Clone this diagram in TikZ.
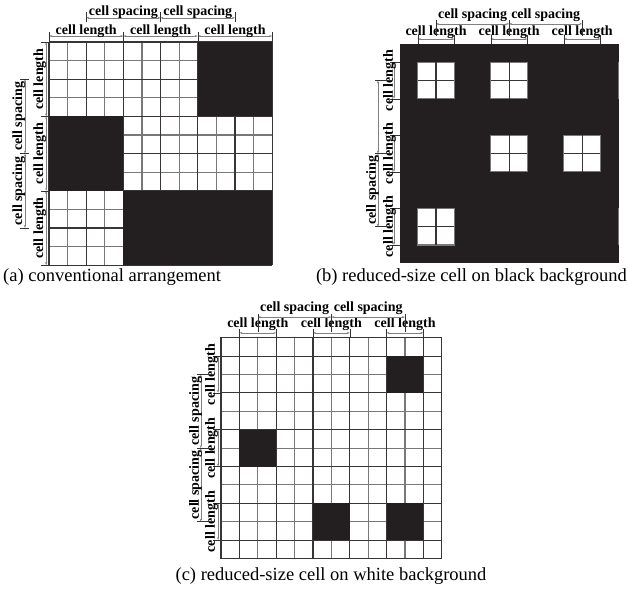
\documentclass[tikz,border=0pt]{standalone}
\usepackage{fontspec}
\setmainfont{Liberation Serif}
\usetikzlibrary{arrows.meta}
\definecolor{cellblack}{RGB}{35,31,32}
\definecolor{linegray}{RGB}{120,120,120}

\begin{document}
\begin{tikzpicture}[x=1pt, y=-1pt,
    darkline/.style={draw=cellblack!90, line width=1.1pt},
    softline/.style={draw=linegray, line width=1.1pt},
    dimarrow/.style={draw=gray, line width=0.45pt,
                     {Stealth[length=3pt,width=2pt]}-{Stealth[length=3pt,width=2pt]}},
    extline/.style={draw=black!80, line width=0.55pt},
    dimlabel/.style={font=\fontsize{14}{14}\selectfont\bfseries, inner sep=0pt, anchor=base},
    sidelabel/.style={dimlabel, rotate=90},
    caption/.style={font=\fontsize{18.5}{18.5}\selectfont, inner sep=0pt}
]
    \useasboundingbox (0,0) rectangle (628,592);

    % (a) conventional arrangement
    \begin{scope}[shift={(49,42)}, x=18.6pt, y=-18.6pt]
        \foreach \k in {1,3,...,11} {
            \draw[softline] (\k,0) -- (\k,12);
            \draw[softline] (0,\k) -- (12,\k);
        }
        \foreach \k in {0,2,...,12} {
            \draw[darkline] (\k,0) -- (\k,12);
            \draw[darkline] (0,\k) -- (12,\k);
        }
        \fill[cellblack] (8,0) rectangle (12,4);
        \fill[cellblack] (0,4) rectangle (4,8);
        \fill[cellblack] (4,8) rectangle (12,12);

        % top
        \foreach \a/\b in {0/4,4/8,8/12}
            \draw[dimarrow] (\a,-0.32) -- (\b,-0.32);
        \foreach \a in {0,4,8,12}
            \draw[extline] (\a,0) -- (\a,-0.55);
        \foreach \c [count=\n] in {2,6,10}
            \node[dimlabel] (alentop\n) at (\c,-0.38) {cell length};
        \draw[dimarrow] (2,-1.3) -- (6,-1.3);
        \draw[dimarrow] (6,-1.3) -- (10,-1.3);
        \foreach \a in {2,6,10}
            \draw[extline] (\a,-1.05) -- (\a,-1.6);
        \node[dimlabel] (aspctop1) at (4,-1.45) {cell spacing};
        \node[dimlabel] (aspctop2) at (8,-1.45) {cell spacing};

        % left
        \foreach \a/\b in {0/4,4/8,8/12}
            \draw[dimarrow] (-0.15,\a) -- (-0.15,\b);
        \foreach \a in {0,4,8,12}
            \draw[extline] (0,\a) -- (-0.45,\a);
        \foreach \c [count=\n] in {2,6,10}
            \node[sidelabel] (alenside\n) at (-0.32,\c) {cell length};
        \draw[dimarrow] (-1.29,2) -- (-1.29,6);
        \draw[dimarrow] (-1.29,6) -- (-1.29,10);
        \foreach \a in {2,6,10}
            \draw[extline] (-1.05,\a) -- (-1.55,\a);
        \node[sidelabel] (aspcside1) at (-1.45,4) {cell spacing};
        \node[sidelabel] (aspcside2) at (-1.45,8) {cell spacing};
    \end{scope}

    % (b) reduced-size cell on black background
    \begin{scope}[shift={(399.5,44)}, x=18.27pt, y=-18.27pt]
        \fill[cellblack] (0,0) rectangle (12,12);
        \foreach \cx/\cy in {1/1,5/1,5/5,9/5,1/9} {
            \fill[white] (\cx,\cy) rectangle ++(2,2);
            \draw[softline] (\cx,\cy) rectangle ++(2,2);
            \draw[darkline] (\cx+1,\cy) -- ++(0,2);
            \draw[darkline] (\cx,\cy+1) -- ++(2,0);
        }
        \draw[softline] (12,1) -- (12,3);
        \draw[softline] (12,9) -- (12,11);

        % top
        \foreach \a in {1,5,9}
            \draw[dimarrow] (\a,-0.27) -- (\a+2,-0.27);
        \foreach \a in {1,3,5,7,9,11}
            \draw[extline] (\a,0) -- (\a,-0.5);
        \foreach \c [count=\n] in {2,6,10}
            \node[dimlabel] (blentop\n) at (\c,-0.49) {cell length};
        \draw[dimarrow] (2,-1.1) -- (6,-1.1);
        \draw[dimarrow] (6,-1.1) -- (10,-1.1);
        \foreach \a in {2,6,10}
            \draw[extline] (\a,-1.3) -- (\a,-0.45);
        \node[dimlabel] (bspctop1) at (4,-1.42) {cell spacing};
        \node[dimlabel] (bspctop2) at (8,-1.42) {cell spacing};

        % left
        \foreach \a in {1,5,9}
            \draw[dimarrow] (-0.3,\a) -- (-0.3,\a+2);
        \foreach \a in {1,3,5,7,9,11}
            \draw[extline] (0,\a) -- (-0.5,\a);
        \foreach \c [count=\n] in {2,6,10}
            \node[sidelabel] (blenside\n) at (-0.36,\c) {cell length};
        \draw[dimarrow] (-1.18,2) -- (-1.18,6);
        \draw[dimarrow] (-1.18,6) -- (-1.18,10);
        \foreach \a in {2,6,10}
            \draw[extline] (-1.35,\a) -- (-0.45,\a);
        \node[sidelabel] (bspcside) at (-1.29,8) {cell spacing};
    \end{scope}

    % (c) reduced-size cell on white background
    \begin{scope}[shift={(221,337.7)}, x=18.4pt, y=-18.4pt]
        \foreach \k in {2,4,...,10} {
            \draw[softline] (\k,0) -- (\k,12);
            \draw[softline] (0,\k) -- (12,\k);
        }
        \foreach \k in {1,3,...,11} {
            \draw[darkline] (\k,0) -- (\k,12);
            \draw[darkline] (0,\k) -- (12,\k);
        }
        \draw[darkline] (0,0) rectangle (12,12);
        \foreach \cx/\cy in {9/1,1/5,5/9,9/9}
            \fill[cellblack] (\cx,\cy) rectangle ++(2,2);

        % top
        \foreach \a in {1,5,9}
            \draw[dimarrow] (\a,-0.26) -- (\a+2,-0.26);
        \foreach \a in {1,3,5,7,9,11}
            \draw[extline] (\a,0) -- (\a,-0.5);
        \foreach \c [count=\n] in {2,6,10}
            \node[dimlabel] (clentop\n) at (\c,-0.57) {cell length};
        \draw[dimarrow] (2,-1.12) -- (6,-1.12);
        \draw[dimarrow] (6,-1.12) -- (10,-1.12);
        \foreach \a in {2,6,10}
            \draw[extline] (\a,-1.3) -- (\a,-0.3);
        \node[dimlabel] (cspctop1) at (4,-1.45) {cell spacing};
        \node[dimlabel] (cspctop2) at (8,-1.45) {cell spacing};

        % left
        \foreach \a in {1,5,9}
            \draw[dimarrow] (-0.16,\a) -- (-0.16,\a+2);
        \foreach \a in {1,3,5,7,9,11}
            \draw[extline] (0,\a) -- (-0.45,\a);
        \foreach \c [count=\n] in {2,6,10}
            \node[sidelabel] (clenside\n) at (-0.33,\c) {cell length};
        \draw[dimarrow] (-1.1,2) -- (-1.1,6);
        \draw[dimarrow] (-1.1,6) -- (-1.1,10);
        \foreach \a in {2,6,10}
            \draw[extline] (-1.3,\a) -- (-0.3,\a);
        \node[sidelabel] (cspcside1) at (-1.2,4) {cell spacing};
        \node[sidelabel] (cspcside2) at (-1.2,8) {cell spacing};
    \end{scope}

    % captions
    \node[caption, anchor=base west] (capa) at (3,281) {(a) conventional arrangement};
    \node[caption, anchor=base east] (capb) at (627,281) {(b) reduced-size cell on black background};
    \node[caption, anchor=base] (capc) at (331,580) {(c) reduced-size cell on white background};
\end{tikzpicture}
\end{document}
